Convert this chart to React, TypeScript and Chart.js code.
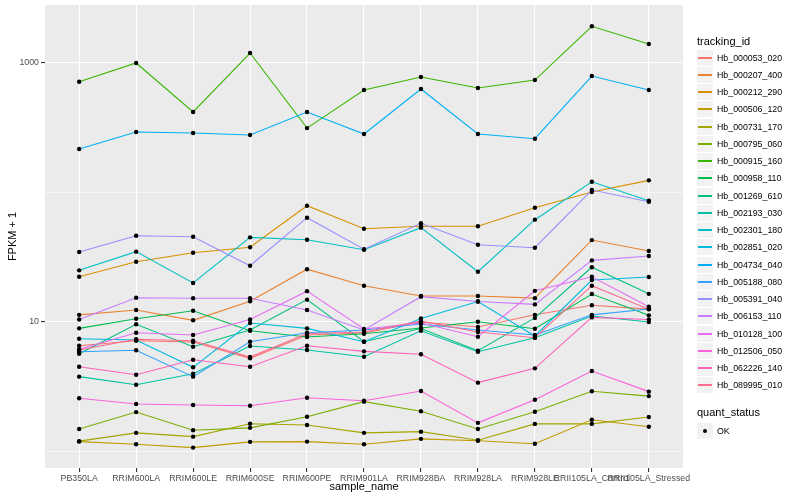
import React, { useEffect, useRef } from "react";
import { Chart, registerables } from "chart.js";

Chart.register(...registerables);

const categories = [
  "PB350LA",
  "RRIM600LA",
  "RRIM600LE",
  "RRIM600SE",
  "RRIM600PE",
  "RRIM901LA",
  "RRIM928BA",
  "RRIM928LA",
  "RRIM928LE",
  "RRII105LA_Control",
  "RRII105LA_Stressed",
];

const trackingIds = [
  "Hb_000053_020",
  "Hb_000207_400",
  "Hb_000212_290",
  "Hb_000506_120",
  "Hb_000731_170",
  "Hb_000795_060",
  "Hb_000915_160",
  "Hb_000958_110",
  "Hb_001269_610",
  "Hb_002193_030",
  "Hb_002301_180",
  "Hb_002851_020",
  "Hb_004734_040",
  "Hb_005188_080",
  "Hb_005391_040",
  "Hb_006153_110",
  "Hb_010128_100",
  "Hb_012506_050",
  "Hb_062226_140",
  "Hb_089995_010",
];

const colors = [
  "#F8766D", "#EA8331", "#D89000", "#C09B00", "#A3A500",
  "#7CAE00", "#39B600", "#00BB4E", "#00BF7D", "#00C1A3",
  "#00BFC4", "#00BAE0", "#00B0F6", "#35A2FF", "#9590FF",
  "#C77CFF", "#E76BF3", "#FA62DB", "#FF62BC", "#FF6C91",
];

const hb000053_020 = [6.53, 7.14, 6.97, 5.22, 7.9, 8.18, 9.95, 9.1, 11.3, 13.4, 12.5];
const hb000207_400 = [11.3, 12.3, 10.25, 14.4, 25.4, 18.95, 15.8, 15.8, 15.2, 42.6, 35.1];
const hb000212_290 = [22.2, 29.0, 34.0, 37.5, 78.4, 52.1, 54.4, 54.4, 75.7, 100, 123];
const hb000506_120 = [1.19, 1.135, 1.07, 1.185, 1.19, 1.135, 1.25, 1.21, 1.147, 1.755, 1.55];
const hb000731_170 = [1.2, 1.39, 1.3, 1.635, 1.6, 1.39, 1.42, 1.22, 1.63, 1.63, 1.84];
const hb000795_060 = [1.49, 2.01, 1.455, 1.52, 1.85, 2.42, 2.04, 1.49, 2.02, 2.91, 2.67];
const hb000915_160 = [709, 988, 414, 1179, 311, 611, 770, 634, 730, 1895, 1384];
const hb000958_110 = [8.89, 10.55, 12.15, 8.52, 7.62, 8.08, 8.94, 10.0, 8.83, 16.35, 11.2];
const hb001269_610 = [5.67, 9.55, 6.42, 8.63, 14.8, 7.01, 8.86, 5.98, 10.7, 26.3, 16.4];
const hb002193_030 = [3.77, 3.27, 3.97, 6.5, 6.05, 5.37, 8.52, 5.87, 7.53, 11.06, 9.95];
const hb002301_180 = [24.9, 34.7, 19.9, 44.7, 42.9, 35.9, 53.1, 24.3, 61.2, 120, 85.7];
const hb002851_020 = [7.4, 7.23, 4.45, 9.77, 8.89, 7.01, 10.6, 14.3, 7.76, 20.96, 22.1];
const hb004734_040 = [214.6, 290, 285, 275, 414, 280, 622, 280, 257.5, 784, 611];
const hb005188_080 = [5.87, 6.02, 3.77, 7.01, 8.23, 8.63, 9.6, 8.63, 7.9, 11.3, 12.53];
const hb005391_040 = [34.5, 46.0, 45.2, 27.0, 63.4, 36.2, 57.4, 39.2, 37.2, 103.6, 84.2];
const hb006153_110 = [10.4, 15.3, 15.15, 15.15, 12.3, 8.63, 15.6, 14.3, 13.6, 29.7, 32.1];
const hb010128_100 = [6.13, 8.23, 7.9, 10.4, 17.2, 8.78, 9.77, 7.66, 17.3, 22.2, 13.05];
const hb012506_050 = [2.57, 2.32, 2.28, 2.25, 2.59, 2.46, 2.92, 1.66, 2.5, 4.17, 2.89];
const hb062226_140 = [4.5, 3.9, 5.09, 4.5, 6.53, 5.91, 5.61, 3.39, 4.37, 10.8, 10.4];
const hb089995_010 = [6.05, 7.32, 7.14, 5.34, 8.11, 8.33, 10.1, 8.33, 7.53, 18.95, 12.5];

const seriesValues = [
  hb000053_020, hb000207_400, hb000212_290, hb000506_120, hb000731_170,
  hb000795_060, hb000915_160, hb000958_110, hb001269_610, hb002193_030,
  hb002301_180, hb002851_020, hb004734_040, hb005188_080, hb005391_040,
  hb006153_110, hb010128_100, hb012506_050, hb062226_140, hb089995_010,
];

const yTickValues = [1, 10, 100, 1000];
const yTickLabels = ["", "10", "", "1000"];
const yMajorTicks = [10, 1000];
const quantStatus = ["OK"];

const FONT = "'Liberation Sans', Arial, Helvetica, sans-serif";

export default function App() {
  const canvasRef = useRef<HTMLCanvasElement | null>(null);

  useEffect(() => {
    const canvas = canvasRef.current;
    if (!canvas) return;
    Chart.defaults.font.family = FONT;

    const lineSets = seriesValues.map((vals, i) => ({
      label: trackingIds[i],
      data: vals.map((v, j) => ({ x: j, y: v })),
      borderColor: colors[i],
      backgroundColor: colors[i],
      borderWidth: 1.1,
      pointRadius: 0,
      pointHoverRadius: 0,
      fill: false,
      tension: 0,
      order: 100 - i,
    }));

    const pointSets = seriesValues.map((vals, i) => ({
      label: trackingIds[i] + " " + quantStatus[0],
      data: vals.map((v, j) => ({ x: j, y: v })),
      showLine: false,
      borderColor: "#000000",
      backgroundColor: "#000000",
      pointBackgroundColor: "#000000",
      pointBorderColor: "#000000",
      pointBorderWidth: 0,
      pointRadius: 2.2,
      order: 0,
    }));

    const panelBg = {
      id: "panelBg",
      beforeDraw(chart: any) {
        const { ctx, chartArea } = chart;
        if (!chartArea) return;
        ctx.save();
        ctx.fillStyle = "#EBEBEB";
        ctx.fillRect(chartArea.left, chartArea.top, chartArea.right - chartArea.left, chartArea.bottom - chartArea.top);
        ctx.restore();
      },
    };

    const chart = new Chart(canvas, {
      type: "line",
      data: { datasets: [...lineSets, ...pointSets] as any },
      options: {
        responsive: false,
        animation: false,
        events: [],
        layout: { padding: { left: 0, top: 5, right: 117, bottom: 0 } },
        plugins: {
          legend: { display: false },
          tooltip: { enabled: false },
        },
        scales: {
          x: {
            type: "linear",
            min: -0.6,
            max: 10.6,
            afterBuildTicks: (s: any) => {
              s.ticks = categories.map((_, i) => ({ value: i }));
            },
            afterFit: (s: any) => {
              s.height = 32;
              s.paddingLeft = 0;
              s.paddingRight = 0;
            },
            ticks: {
              autoSkip: false,
              maxRotation: 0,
              minRotation: 0,
              padding: 1,
              color: "#4D4D4D",
              font: { size: 8.8, family: FONT },
              callback: (v: any) => categories[Math.round(Number(v))] ?? "",
            },
            grid: {
              color: "#FFFFFF",
              lineWidth: 1.1,
              tickLength: 4,
              tickColor: "#333333",
              tickWidth: 1.1,
            },
            border: { display: false },
            title: {
              display: true,
              text: "sample_name",
              color: "#000000",
              font: { size: 11, family: FONT },
              padding: { top: 0, bottom: 6 },
            },
          },
          y: {
            type: "logarithmic",
            min: 0.745,
            max: 2766,
            bounds: "data",
            afterBuildTicks: (s: any) => {
              s.ticks = yTickValues.map((v) => ({ value: v, major: yMajorTicks.includes(v) }));
            },
            afterFit: (s: any) => {
              s.width = 45;
              s.paddingTop = 0;
              s.paddingBottom = 0;
            },
            ticks: {
              autoSkip: false,
              padding: 2,
              color: "#4D4D4D",
              font: { size: 8.8, family: FONT },
              callback: (_v: any, idx: number) => yTickLabels[idx] ?? "",
            },
            grid: {
              color: "#FFFFFF",
              lineWidth: (c: any) => (c.tick && yMajorTicks.includes(c.tick.value) ? 1.1 : 0.55),
              tickLength: 4,
              tickWidth: 1.1,
              tickColor: (c: any) =>
                c.tick && yMajorTicks.includes(c.tick.value) ? "#333333" : "rgba(0,0,0,0)",
            },
            border: { display: false },
            title: {
              display: true,
              text: "FPKM + 1",
              color: "#000000",
              font: { size: 11, family: FONT },
              padding: { top: 6, bottom: 0 },
            },
          },
        },
      } as any,
      plugins: [panelBg],
    });

    return () => chart.destroy();
  }, []);

  const rowH = 17.24;
  const firstRowCenter = 57.7;
  const keyLeft = 697;

  return (
    <div
      style={{
        position: "fixed",
        left: 0,
        top: 0,
        width: 800,
        height: 500,
        background: "#FFFFFF",
        fontFamily: FONT,
        color: "#000000",
      }}
    >
      <canvas ref={canvasRef} width={800} height={500} style={{ position: "absolute", left: 0, top: 0 }} />
      <div style={{ position: "absolute", left: keyLeft, top: 34, fontSize: 11, lineHeight: "14px" }}>
        tracking_id
      </div>
      {trackingIds.map((id, i) => {
        const c = Math.round(firstRowCenter + i * rowH);
        return (
          <div key={id}>
            <div
              style={{
                position: "absolute",
                left: keyLeft,
                top: c - 8,
                width: 16,
                height: 16,
                background: "#F2F2F2",
              }}
            >
              <div
                style={{
                  position: "absolute",
                  left: 1,
                  width: 14,
                  top: 7,
                  height: 2,
                  background: colors[i],
                }}
              />
            </div>
            <div
              style={{
                position: "absolute",
                left: 717,
                top: c - 7,
                fontSize: 8.8,
                lineHeight: "14px",
                whiteSpace: "nowrap",
              }}
            >
              {id}
            </div>
          </div>
        );
      })}
      <div style={{ position: "absolute", left: keyLeft, top: 405, fontSize: 11, lineHeight: "14px" }}>
        quant_status
      </div>
      {quantStatus.map((q, i) => {
        const c = 431 + i * 17;
        return (
          <div key={q}>
            <div
              style={{
                position: "absolute",
                left: keyLeft,
                top: c - 8,
                width: 16,
                height: 16,
                background: "#F2F2F2",
              }}
            >
              <div
                style={{
                  position: "absolute",
                  left: 6,
                  top: 6,
                  width: 4,
                  height: 4,
                  borderRadius: "50%",
                  background: "#000000",
                }}
              />
            </div>
            <div
              style={{
                position: "absolute",
                left: 717,
                top: c - 7,
                fontSize: 8.8,
                lineHeight: "14px",
              }}
            >
              {q}
            </div>
          </div>
        );
      })}
    </div>
  );
}
